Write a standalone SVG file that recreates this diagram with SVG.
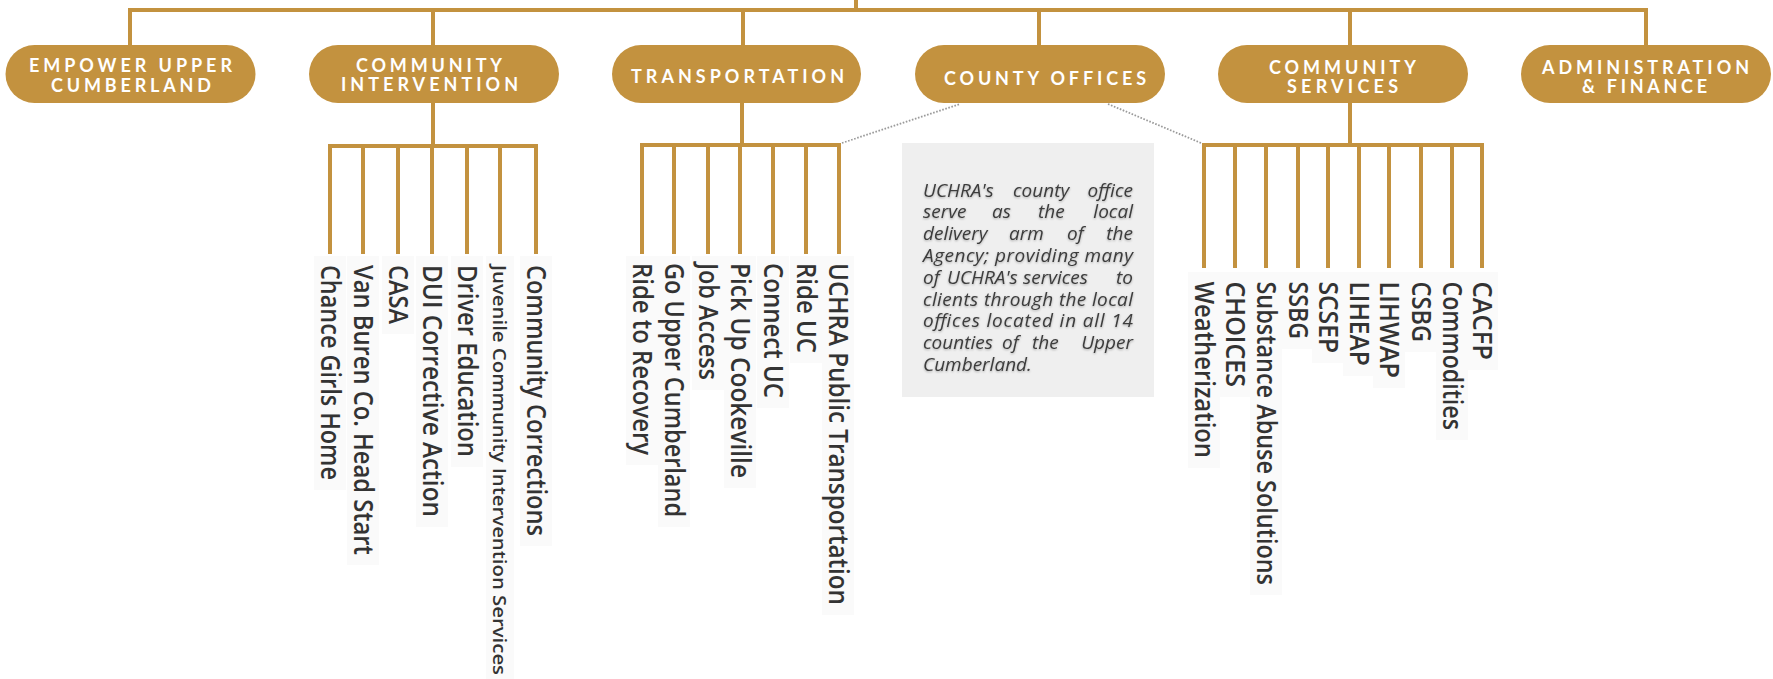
<svg xmlns="http://www.w3.org/2000/svg" width="1773" height="679" viewBox="0 0 1773 679">
  <style>
    .pill { fill: #C3923F; }
    .ptxt { font-family: Lato, "Liberation Sans", sans-serif; font-weight: 700; font-size: 18px; fill: #ffffff; }
    .wire { fill: none; stroke: #C3923F; stroke-width: 4; stroke-linejoin: miter; }
    .dots { fill: none; stroke: #9a9a9a; stroke-width: 1.8; stroke-dasharray: 1.6 1.6; }
    .lbox { fill: #fafafa; }
    .lbl { font-family: "Open Sans", "Liberation Sans", sans-serif; font-weight: 600; font-size: 27px; fill: #333333; }
    .lbl-sm { font-size: 18.5px; }
    .note-bg { fill: #efefef; }
    .note { font-family: "Open Sans", "Liberation Sans", sans-serif; font-style: italic; font-size: 19px; fill: #3c3c3c; }
  </style>
  <defs>
    <filter id="soft" x="-10%" y="-10%" width="120%" height="130%">
      <feDropShadow dx="0" dy="1" stdDeviation="1.2" flood-color="#000000" flood-opacity="0.3"/>
    </filter>
  </defs>

  <!-- connectors -->
  <g id="connectors">
    <path class="wire" d="M856 0 V10"/>
    <path class="wire" d="M130 45 V10 H1646 V45"/>
    <path class="wire" d="M433 10 V45 M743 10 V45 M1039 10 V45 M1350 10 V45"/>
    <!-- community intervention branch -->
    <path class="wire" d="M433 103 V146"/>
    <path class="wire" d="M330 254 V146 H536 V254"/>
    <path class="wire" d="M363 146 V254 M398 146 V254 M432 146 V254 M467 146 V254 M500 146 V254"/>
    <!-- transportation branch -->
    <path class="wire" d="M742 103 V145"/>
    <path class="wire" d="M642 254 V145 H839 V254"/>
    <path class="wire" d="M674 145 V254 M708 145 V254 M740 145 V254 M773 145 V254 M806 145 V254"/>
    <!-- community services branch -->
    <path class="wire" d="M1350 103 V145"/>
    <path class="wire" d="M1204 268 V145 H1482 V268"/>
    <path class="wire" d="M1235 145 V268 M1266 145 V268 M1298 145 V268 M1328 145 V268 M1359 145 V268 M1389 145 V268 M1421 145 V268 M1452 145 V268"/>
    <!-- county office links -->
    <path class="dots" d="M842 143 L960 104"/>
    <path class="dots" d="M1108 104 L1201 143"/>
  </g>

  <!-- top-level divisions -->
  <g id="empower-upper-cumberland">
    <rect class="pill" x="5.5" y="45" width="250" height="58" rx="29"/>
    <text class="ptxt" x="29" y="72" textLength="203" lengthAdjust="spacing">EMPOWER UPPER</text>
    <text class="ptxt" x="51" y="91.5" textLength="160" lengthAdjust="spacing">CUMBERLAND</text>
  </g>
  <g id="community-intervention">
    <rect class="pill" x="309" y="45" width="250" height="58" rx="29"/>
    <text class="ptxt" x="356" y="71.5" textLength="146" lengthAdjust="spacing">COMMUNITY</text>
    <text class="ptxt" x="341" y="91" textLength="177" lengthAdjust="spacing">INTERVENTION</text>
  </g>
  <g id="transportation">
    <rect class="pill" x="612" y="45" width="249" height="58" rx="29"/>
    <text class="ptxt" x="631" y="82.5" textLength="213" lengthAdjust="spacing">TRANSPORTATION</text>
  </g>
  <g id="county-offices">
    <rect class="pill" x="915" y="45" width="250" height="58" rx="29"/>
    <text class="ptxt" x="944" y="84.5" textLength="202" lengthAdjust="spacing">COUNTY OFFICES</text>
  </g>
  <g id="community-services">
    <rect class="pill" x="1218" y="45" width="250" height="58" rx="29"/>
    <text class="ptxt" x="1269" y="73.5" textLength="147" lengthAdjust="spacing">COMMUNITY</text>
    <text class="ptxt" x="1287" y="93" textLength="111" lengthAdjust="spacing">SERVICES</text>
  </g>
  <g id="administration-finance">
    <rect class="pill" x="1521" y="45" width="250" height="58" rx="29"/>
    <text class="ptxt" x="1542" y="73.5" textLength="207" lengthAdjust="spacing">ADMINISTRATION</text>
    <text class="ptxt" x="1582" y="93" textLength="125" lengthAdjust="spacing">&amp; FINANCE</text>
  </g>

  <!-- county office note -->
  <g id="county-offices-note">
    <rect class="note-bg" x="902" y="143" width="252" height="254"/>
    <g class="note" filter="url(#soft)">
      <text x="923" y="196.5">UCHRA's</text>
      <text x="1013" y="196.5">county</text>
      <text x="1133" y="196.5" text-anchor="end">office</text>
      <text x="923" y="218.3">serve</text>
      <text x="992" y="218.3">as</text>
      <text x="1038" y="218.3">the</text>
      <text x="1133" y="218.3" text-anchor="end">local</text>
      <text x="923" y="240.1">delivery</text>
      <text x="1009" y="240.1">arm</text>
      <text x="1067" y="240.1">of</text>
      <text x="1133" y="240.1" text-anchor="end">the</text>
      <text x="923" y="261.9" textLength="210" lengthAdjust="spacing">Agency; providing many</text>
      <text x="923" y="283.7">of</text>
      <text x="947" y="283.7">UCHRA's</text>
      <text x="1023" y="283.7">services</text>
      <text x="1133" y="283.7" text-anchor="end">to</text>
      <text x="923" y="305.5" textLength="210" lengthAdjust="spacing">clients through the local</text>
      <text x="923" y="327.3" textLength="210" lengthAdjust="spacing">offices located in all 14</text>
      <text x="923" y="349.1">counties</text>
      <text x="1002" y="349.1">of</text>
      <text x="1032" y="349.1">the</text>
      <text x="1133" y="349.1" text-anchor="end">Upper</text>
      <text x="923" y="370.9">Cumberland.</text>
    </g>
  </g>

  <!-- community intervention programs -->
  <g id="chance-girls-home"><rect class="lbox" x="314" y="256" width="32" height="234"/><text class="lbl" transform="translate(321 265) rotate(90)" textLength="215" lengthAdjust="spacingAndGlyphs">Chance Girls Home</text></g>
  <g id="van-buren-head-start"><rect class="lbox" x="347" y="256" width="32" height="309"/><text class="lbl" transform="translate(354 265) rotate(90)" textLength="290" lengthAdjust="spacingAndGlyphs">Van Buren Co. Head Start</text></g>
  <g id="casa"><rect class="lbox" x="382" y="256" width="32" height="78"/><text class="lbl" transform="translate(389 265) rotate(90)" textLength="59" lengthAdjust="spacingAndGlyphs">CASA</text></g>
  <g id="dui-corrective-action"><rect class="lbox" x="416" y="256" width="32" height="271"/><text class="lbl" transform="translate(423 265) rotate(90)" textLength="252" lengthAdjust="spacingAndGlyphs">DUI Corrective Action</text></g>
  <g id="driver-education"><rect class="lbox" x="451" y="256" width="32" height="211"/><text class="lbl" transform="translate(458 265) rotate(90)" textLength="192" lengthAdjust="spacingAndGlyphs">Driver Education</text></g>
  <g id="juvenile-intervention-services"><rect class="lbox" x="486" y="256" width="28" height="423"/><text class="lbl lbl-sm" transform="translate(493 265) rotate(90)" textLength="410" lengthAdjust="spacingAndGlyphs">Juvenile Community Intervention Services</text></g>
  <g id="community-corrections"><rect class="lbox" x="520" y="256" width="32" height="290"/><text class="lbl" transform="translate(527 265) rotate(90)" textLength="271" lengthAdjust="spacingAndGlyphs">Community Corrections</text></g>

  <!-- transportation programs -->
  <g id="ride-to-recovery"><rect class="lbox" x="626" y="256" width="32" height="209"/><text class="lbl" transform="translate(633 263) rotate(90)" textLength="192" lengthAdjust="spacingAndGlyphs">Ride to Recovery</text></g>
  <g id="go-upper-cumberland"><rect class="lbox" x="658" y="256" width="32" height="271"/><text class="lbl" transform="translate(665 263) rotate(90)" textLength="254" lengthAdjust="spacingAndGlyphs">Go Upper Cumberland</text></g>
  <g id="job-access"><rect class="lbox" x="692" y="256" width="32" height="134"/><text class="lbl" transform="translate(699 263) rotate(90)" textLength="117" lengthAdjust="spacingAndGlyphs">Job Access</text></g>
  <g id="pick-up-cookeville"><rect class="lbox" x="724" y="256" width="32" height="232"/><text class="lbl" transform="translate(731 263) rotate(90)" textLength="215" lengthAdjust="spacingAndGlyphs">Pick Up Cookeville</text></g>
  <g id="connect-uc"><rect class="lbox" x="757" y="256" width="32" height="152"/><text class="lbl" transform="translate(764 263) rotate(90)" textLength="135" lengthAdjust="spacingAndGlyphs">Connect UC</text></g>
  <g id="ride-uc"><rect class="lbox" x="790" y="256" width="32" height="107"/><text class="lbl" transform="translate(797 263) rotate(90)" textLength="90" lengthAdjust="spacingAndGlyphs">Ride UC</text></g>
  <g id="uchra-public-transportation"><rect class="lbox" x="822" y="256" width="32" height="359"/><text class="lbl" transform="translate(829 263) rotate(90)" textLength="342" lengthAdjust="spacingAndGlyphs">UCHRA Public Transportation</text></g>

  <!-- community services programs -->
  <g id="weatherization"><rect class="lbox" x="1188" y="272" width="32" height="196"/><text class="lbl" transform="translate(1195 281.5) rotate(90)" textLength="176.5" lengthAdjust="spacingAndGlyphs">Weatherization</text></g>
  <g id="choices"><rect class="lbox" x="1219" y="272" width="32" height="125"/><text class="lbl" transform="translate(1226 281.5) rotate(90)" textLength="105.5" lengthAdjust="spacingAndGlyphs">CHOICES</text></g>
  <g id="substance-abuse-solutions"><rect class="lbox" x="1250" y="272" width="32" height="323"/><text class="lbl" transform="translate(1257 281.5) rotate(90)" textLength="303.5" lengthAdjust="spacingAndGlyphs">Substance Abuse Solutions</text></g>
  <g id="ssbg"><rect class="lbox" x="1282" y="272" width="32" height="77"/><text class="lbl" transform="translate(1289 281.5) rotate(90)" textLength="57.5" lengthAdjust="spacingAndGlyphs">SSBG</text></g>
  <g id="scsep"><rect class="lbox" x="1312" y="272" width="32" height="91"/><text class="lbl" transform="translate(1319 281.5) rotate(90)" textLength="71.5" lengthAdjust="spacingAndGlyphs">SCSEP</text></g>
  <g id="liheap"><rect class="lbox" x="1343" y="272" width="32" height="104"/><text class="lbl" transform="translate(1350 281.5) rotate(90)" textLength="84.5" lengthAdjust="spacingAndGlyphs">LIHEAP</text></g>
  <g id="lihwap"><rect class="lbox" x="1373" y="272" width="32" height="116"/><text class="lbl" transform="translate(1380 281.5) rotate(90)" textLength="96.5" lengthAdjust="spacingAndGlyphs">LIHWAP</text></g>
  <g id="csbg"><rect class="lbox" x="1405" y="272" width="32" height="80"/><text class="lbl" transform="translate(1412 281.5) rotate(90)" textLength="60.5" lengthAdjust="spacingAndGlyphs">CSBG</text></g>
  <g id="commodities"><rect class="lbox" x="1436" y="272" width="32" height="168"/><text class="lbl" transform="translate(1443 281.5) rotate(90)" textLength="148.5" lengthAdjust="spacingAndGlyphs">Commodities</text></g>
  <g id="cacfp"><rect class="lbox" x="1466" y="272" width="32" height="98"/><text class="lbl" transform="translate(1473 281.5) rotate(90)" textLength="78.5" lengthAdjust="spacingAndGlyphs">CACFP</text></g>
</svg>
